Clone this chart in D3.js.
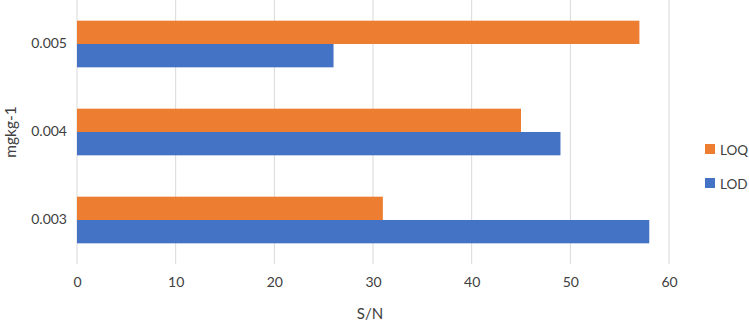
<!DOCTYPE html>
<html>
<head>
<meta charset="utf-8">
<script src="https://cdn.jsdelivr.net/npm/d3@7"></script>
<style>
  body { margin: 0; background: #fff; }
  text { font-family: Lato, "Open Sans", sans-serif; fill: #404040; }
</style>
</head>
<body>
<div id="chart"></div>
<script>
const categories = ["0.005", "0.004", "0.003"];
const seriesNames = ["LOQ", "LOD"];
const loq = [57, 45, 31];
const lod = [26, 49, 58];
const xTicks = [0, 10, 20, 30, 40, 50, 60];
const colors = {LOQ: "#ED7D31", LOD: "#4472C4"};

const width = 749, height = 323,
  margin = ({top: 0, right: 80, bottom: 59, left: 77});

const data = categories.map((c, i) => ({cat: c, LOQ: loq[i], LOD: lod[i]}));

let svg = d3.select("#chart").append("svg")
  .attr("width", width).attr("height", height);

let x = d3.scaleLinear()
  .domain([0, 60])
  .range([margin.left, 669]);

let y = d3.scaleBand()
  .domain(categories)
  .range([margin.top, height - margin.bottom])
  .paddingInner(0.47)
  .paddingOuter(0.235);

let ySub = d3.scaleBand()
  .domain(seriesNames)
  .range([0, y.bandwidth()]);

// gridlines
svg.append("g")
  .selectAll("line")
  .data(xTicks)
  .join("line")
  .attr("x1", d => x(d)).attr("x2", d => x(d))
  .attr("y1", margin.top).attr("y2", height - margin.bottom)
  .attr("stroke", "#d9d9d9").attr("stroke-width", 1);

// x axis
const xAxis = g => g
  .attr("transform", `translate(0, 287)`)
  .call(d3.axisBottom(x).tickValues(xTicks).tickSize(0))
  .call(g => g.select(".domain").remove())
  .call(g => g.selectAll("text").attr("y", 0).attr("dy", 0)
    .attr("font-size", 14).attr("fill", "#404040")
    .style("font-family", "Lato, 'Open Sans', sans-serif"));

// y axis
const yAxis = g => g
  .attr("transform", `translate(67, 0)`)
  .call(d3.axisLeft(y).tickSize(0).tickPadding(0))
  .call(g => g.select(".domain").remove())
  .call(g => g.selectAll("text").attr("font-size", 14).attr("fill", "#404040")
    .style("font-family", "Lato, 'Open Sans', sans-serif"));

svg.append("g").call(xAxis);
svg.append("g").call(yAxis);

// bars
let group = svg.selectAll(".grp")
  .data(data)
  .join("g")
  .attr("class", "grp")
  .attr("transform", d => `translate(0, ${y(d.cat)})`);

group.selectAll("rect")
  .data(d => seriesNames.map(s => ({s: s, v: d[s]})))
  .join("rect")
  .attr("x", x(0))
  .attr("y", d => ySub(d.s))
  .attr("width", d => x(d.v) - x(0))
  .attr("height", ySub.bandwidth())
  .attr("fill", d => colors[d.s]);

// axis titles
svg.append("text")
  .attr("x", 370).attr("y", 319)
  .attr("text-anchor", "middle").attr("font-size", 15)
  .text("S/N");

svg.append("text")
  .attr("transform", `translate(16, 132) rotate(-90)`)
  .attr("text-anchor", "middle").attr("font-size", 15.5)
  .text("mgkg-1");

// legend
let legend = svg.selectAll(".legend")
  .data(seriesNames)
  .join("g")
  .attr("class", "legend")
  .attr("transform", (d, i) => `translate(705, ${144 + i * 34})`);

legend.append("rect")
  .attr("width", 10).attr("height", 10)
  .attr("fill", d => colors[d]);

legend.append("text")
  .attr("x", 15).attr("y", 10.5)
  .attr("font-size", 13.5)
  .text(d => d);
</script>
</body>
</html>
